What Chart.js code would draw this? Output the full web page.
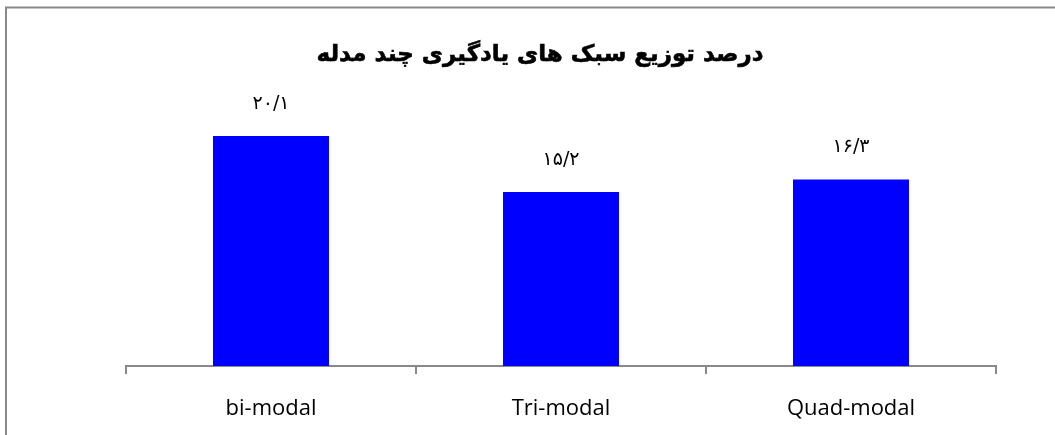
<!DOCTYPE html>
<html>
<head>
<meta charset="utf-8">
<script src="https://cdn.jsdelivr.net/npm/chart.js@4.4.1/dist/chart.umd.min.js"></script>
<style>
html,body{margin:0;padding:0;background:#fff;}
#wrap{width:1055px;height:435px;position:relative;}
</style>
</head>
<body>
<div id="wrap"><canvas id="c" width="1055" height="435"></canvas></div>
<script>
const categories = ["bi-modal", "Tri-modal", "Quad-modal"];
const values = [20.1, 15.2, 16.3];
const valueLabels = ["۲۰/۱", "۱۵/۲", "۱۶/۳"];
const chartTitle = "درصد توزیع سبک های یادگیری چند مدله";

const framePlugin = {
  id: 'frame',
  beforeDraw(chart) {
    const ctx = chart.ctx;
    ctx.save();
    ctx.fillStyle = '#fff';
    ctx.fillRect(0, 0, chart.width, chart.height);
    ctx.strokeStyle = '#898989';
    ctx.lineWidth = 2;
    ctx.strokeRect(6, 7.5, chart.width + 20, chart.height + 20);
    ctx.restore();
  },
  afterDraw(chart) {
    const ctx = chart.ctx;
    ctx.save();
    ctx.font = 'bold 23px "DejaVu Sans"';
    ctx.fillStyle = '#000';
    ctx.strokeStyle = '#000';
    ctx.lineWidth = 0.6;
    ctx.textAlign = 'center';
    ctx.textBaseline = 'middle';
    ctx.fillText(chartTitle, 540, 55);
    ctx.strokeText(chartTitle, 540, 55);
    ctx.restore();
  }
};

const labelPlugin = {
  id: 'valueLabels',
  afterDatasetsDraw(chart) {
    const ctx = chart.ctx;
    const meta = chart.getDatasetMeta(0);
    ctx.save();
    ctx.font = '19px "DejaVu Sans"';
    ctx.fillStyle = '#000';
    ctx.textAlign = 'center';
    ctx.textBaseline = 'middle';
    meta.data.forEach((bar, i) => {
      ctx.fillText(valueLabels[i], bar.x, bar.y - 32);
    });
    ctx.restore();
  }
};

new Chart(document.getElementById('c'), {
  type: 'bar',
  data: {
    labels: categories,
    datasets: [{
      data: values,
      backgroundColor: '#0000FF',
      borderWidth: 0,
      barPercentage: 0.4,
      categoryPercentage: 1.0
    }]
  },
  options: {
    responsive: false,
    animation: false,
    events: [],
    layout: { padding: { left: 126, right: 59, top: 80, bottom: 0 } },
    plugins: {
      legend: { display: false },
      tooltip: { enabled: false },
      title: { display: false }
    },
    scales: {
      x: {
        grid: {
          display: true,
          offset: true,
          drawOnChartArea: false,
          drawTicks: true,
          tickLength: 8,
          color: '#898989',
          lineWidth: 2
        },
        border: { display: true, color: '#898989', width: 2 },
        ticks: {
          color: '#000',
          font: { family: '"Open Sans"', size: 22 },
          padding: 22,
          maxRotation: 0
        },
        afterFit(scale) { scale.height = 69; }
      },
      y: {
        display: false,
        min: 0,
        max: 25
      }
    }
  },
  plugins: [framePlugin, labelPlugin]
});
</script>
</body>
</html>
